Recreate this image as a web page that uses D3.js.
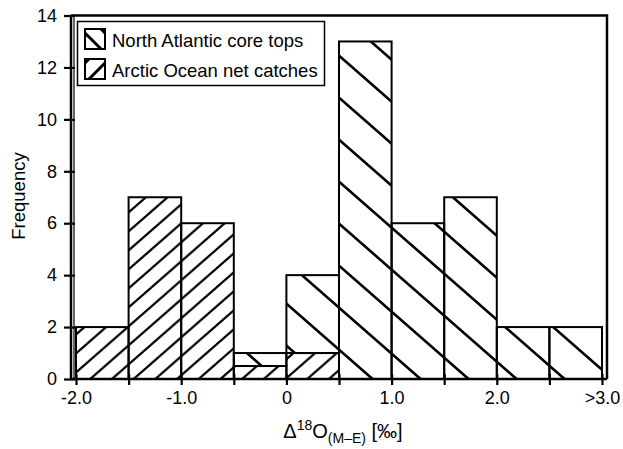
<!DOCTYPE html>
<meta charset="utf-8">
<title>d18O histogram</title>
<body>
<script src="https://cdn.jsdelivr.net/npm/d3@7"></script>
<style>
html, body {
    margin: 0;
    background: #fff;
}
svg {
    display: block;
    font-family: "Liberation Sans", Arial, Helvetica, sans-serif;
}
</style>
<script>
// bins are 0.5 wide, last one is ">3.0"
var binStarts = [-2.0, -1.5, -1.0, -0.5, 0.0, 0.5, 1.0, 1.5, 2.0, 2.5];
var arcticOcean = [2, 7, 6, 0.5, 1, 0, 0, 0, 0, 0];
var northAtlantic = [0, 0, 0, 0.5, 3, 13, 6, 7, 2, 2];
var seriesNames = ["North Atlantic core tops", "Arctic Ocean net catches"];
var xTickValues = [-2, -1, 0, 1, 2, 3];
var xTickLabels = ["-2.0", "-1.0", "0", "1.0", "2.0", ">3.0"];
var yTickValues = [0, 2, 4, 6, 8, 10, 12, 14];

var width = 623,
    height = 449,
    binWidth = 0.5;

var x = d3.scaleLinear().domain([-2, 3]).range([76, 602]);
var y = d3.scaleLinear().domain([0, 14]).range([379, 15.5]);

var svg = d3.select("body").append("svg")
    .attr("width", width)
    .attr("height", height);

var defs = svg.append("defs");

// back = "\" lines, otherwise "/"
function hatch(id, w, h, ox, oy, back, sw) {
    var p = defs.append("pattern")
        .attr("id", id)
        .attr("patternUnits", "userSpaceOnUse")
        .attr("x", ox).attr("y", oy)
        .attr("width", w).attr("height", h);
    var ex = w * 0.15, ey = h * 0.15, d;
    if (back) {
        d = "M" + [-ex, -ey] + "L" + [w + ex, h + ey] +
            "M" + [w - ex, -ey] + "L" + [w + ex, ey] +
            "M" + [-ex, h - ey] + "L" + [ex, h + ey];
    } else {
        d = "M" + [-ex, h + ey] + "L" + [w + ex, -ey] +
            "M" + [-ex, ey] + "L" + [ex, -ey] +
            "M" + [w - ex, h + ey] + "L" + [w + ex, h - ey];
    }
    p.append("path")
        .attr("d", d)
        .attr("stroke", "#000")
        .attr("stroke-width", sw)
        .attr("fill", "none");
}

hatch("hatchNA", 48, 42, 0, 11, true, 2.6);
hatch("hatchAO", 21.7, 19, 0, 2, false, 2.2);

var rows = binStarts.map(function(b, i) {
    return { x0: b, ao: arcticOcean[i], na: northAtlantic[i] };
});

var bars = svg.append("g");

// arctic at the bottom, north atlantic stacked on top
bars.selectAll("rect.ao")
    .data(rows.filter(function(d) { return d.ao > 0; }))
    .enter().append("rect")
    .attr("class", "ao")
    .attr("x", function(d) { return x(d.x0); })
    .attr("width", function(d) { return x(d.x0 + binWidth) - x(d.x0); })
    .attr("y", function(d) { return y(d.ao); })
    .attr("height", function(d) { return y(0) - y(d.ao); })
    .attr("fill", "url(#hatchAO)")
    .attr("stroke", "#000")
    .attr("stroke-width", 2);

bars.selectAll("rect.na")
    .data(rows.filter(function(d) { return d.na > 0; }))
    .enter().append("rect")
    .attr("class", "na")
    .attr("x", function(d) { return x(d.x0); })
    .attr("width", function(d) { return x(d.x0 + binWidth) - x(d.x0); })
    .attr("y", function(d) { return y(d.ao + d.na); })
    .attr("height", function(d) { return y(d.ao) - y(d.ao + d.na); })
    .attr("fill", "url(#hatchNA)")
    .attr("stroke", "#000")
    .attr("stroke-width", 2);

// frame
svg.append("path")
    .attr("d", "M71," + y(14) + "H607V" + y(0))
    .attr("fill", "none")
    .attr("stroke", "#000")
    .attr("stroke-width", 2.5);
svg.append("line")
    .attr("x1", 74).attr("x2", 74)
    .attr("y1", y(14)).attr("y2", y(0))
    .attr("stroke", "#000")
    .attr("stroke-width", 1.2);

// axes
var yAxis = svg.append("g")
    .attr("transform", "translate(71,0)")
    .call(d3.axisLeft(y).tickValues(yTickValues).tickSize(7).tickSizeOuter(0).tickPadding(7));
yAxis.select(".domain").remove();
yAxis.selectAll(".tick line").attr("x1", 4).attr("stroke-width", 2.2);
yAxis.selectAll(".tick text").attr("font-size", 18).attr("fill", "#000");
yAxis.append("line")
    .attr("y1", y(14)).attr("y2", y(0))
    .attr("stroke", "#000").attr("stroke-width", 2.5);

var xAxis = svg.append("g")
    .attr("transform", "translate(0," + y(0) + ")")
    .call(d3.axisBottom(x)
        .tickValues(d3.range(-2, 3.01, binWidth))
        .tickSize(6).tickSizeOuter(0).tickPadding(6)
        .tickFormat(function(v) {
            var k = xTickValues.indexOf(v);
            return k < 0 ? "" : xTickLabels[k];
        }));
xAxis.select(".domain").remove();
xAxis.selectAll(".tick line").attr("y1", -5).attr("stroke-width", 2.2);
xAxis.selectAll(".tick text").attr("font-size", 18).attr("fill", "#000");
xAxis.append("line")
    .attr("x1", 71).attr("x2", 607)
    .attr("stroke", "#000").attr("stroke-width", 2.5);

// axis titles
svg.append("text")
    .attr("transform", "translate(25,196) rotate(-90)")
    .attr("text-anchor", "middle")
    .attr("font-size", 18.5)
    .text("Frequency");

var xt = svg.append("text")
    .attr("x", 343).attr("y", 438)
    .attr("text-anchor", "middle")
    .attr("font-size", 20);
xt.append("tspan").text("\u0394");
xt.append("tspan").attr("font-size", 14).attr("dy", -8).text("18");
xt.append("tspan").attr("dy", 8).text("O");
xt.append("tspan").attr("font-size", 14).attr("dy", 5).text("(M\u2013E)");
xt.append("tspan").attr("dy", -5).text(" [\u2030]");

// legend
var legend = svg.append("g");
legend.append("rect")
    .attr("x", 77.5).attr("y", 21.5)
    .attr("width", 247).attr("height", 64)
    .attr("fill", "#fff")
    .attr("stroke", "#000")
    .attr("stroke-width", 1.5);

hatch("swNA", 20, 20, 85, 29, true, 3);
hatch("swAO", 20, 20, 85, 59, false, 3);

var items = legend.selectAll("g.item")
    .data(seriesNames)
    .enter().append("g")
    .attr("class", "item")
    .attr("transform", function(d, i) { return "translate(85," + (29 + i * 30) + ")"; });

items.append("rect")
    .attr("width", 20).attr("height", 20)
    .attr("fill", function(d, i) { return i === 0 ? "url(#swNA)" : "url(#swAO)"; })
    .attr("stroke", "#000")
    .attr("stroke-width", 2);

items.append("text")
    .attr("x", 27).attr("y", 17.5)
    .attr("font-size", 18.5)
    .text(function(d) { return d; });
</script>
